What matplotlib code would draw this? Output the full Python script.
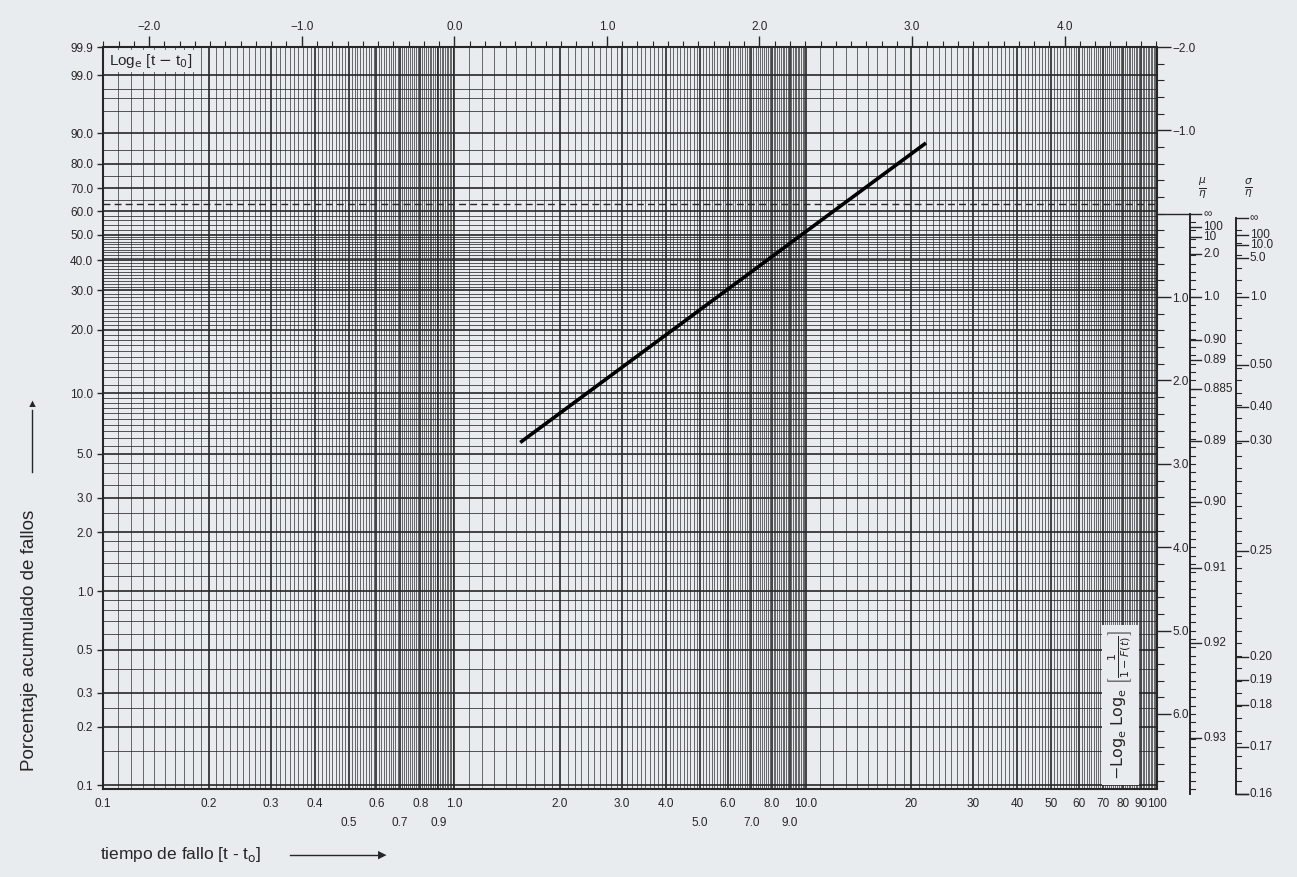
import numpy as np
import matplotlib
matplotlib.use("Agg")
import matplotlib.pyplot as plt
from matplotlib.transforms import blended_transform_factory
from matplotlib.ticker import NullLocator, FixedLocator

plt.rcParams['font.family'] = ['Liberation Sans', 'DejaVu Sans']

# ---------------- data ----------------
# left axis: cumulative failure percentage (labelled)
pct_values = [0.1, 0.2, 0.3, 0.5, 1.0, 2.0, 3.0, 5.0, 10.0, 20.0, 30.0, 40.0,
              50.0, 60.0, 70.0, 80.0, 90.0, 99.0, 99.9]
pct_labels = ["0.1", "0.2", "0.3", "0.5", "1.0", "2.0", "3.0", "5.0", "10.0",
              "20.0", "30.0", "40.0", "50.0", "60.0", "70.0", "80.0", "90.0",
              "99.0", "99.9"]
# unlabelled horizontal rulings (percent)
pct_minor = [0.15, 0.25, 0.4, 0.6, 0.7, 0.8, 0.9,
             1.2, 1.4, 1.6, 1.8, 2.5, 3.5, 4.0, 4.5, 5.5, 6.0, 6.5, 7.0, 7.5,
             8.0, 8.5, 9.0, 9.5,
             11, 12, 13, 14, 15, 16, 17, 18, 19,
             21, 22, 23, 24, 25, 26, 27, 28, 29,
             31, 32, 33, 34, 35, 36, 37, 38, 39,
             41, 42, 43, 44, 45, 46, 47, 48, 49,
             52, 54, 56, 58, 65, 75, 85, 95, 97, 98]
pct_dashed = 63.2

# bottom axis: time to failure, two rows of labels
t_row1 = [0.1, 0.2, 0.3, 0.4, 0.6, 0.8, 1.0, 2.0, 3.0, 4.0, 6.0, 8.0, 10.0,
          20, 30, 40, 50, 60, 70, 80, 90, 100]
t_row1_labels = ["0.1", "0.2", "0.3", "0.4", "0.6", "0.8", "1.0", "2.0", "3.0",
                 "4.0", "6.0", "8.0", "10.0", "20", "30", "40", "50", "60",
                 "70", "80", "90", "100"]
t_row2 = [0.5, 0.7, 0.9, 5.0, 7.0, 9.0]
t_row2_labels = ["0.5", "0.7", "0.9", "5.0", "7.0", "9.0"]

# top axis: Log_e(t - t0)
top_ticks = [-2.0, -1.0, 0.0, 1.0, 2.0, 3.0, 4.0]
top_labels = ["\u22122.0", "\u22121.0", "0.0", "1.0", "2.0", "3.0", "4.0"]

# right axis: -Log_e Log_e [1/(1-F(t))]
right_ticks = [-2.0, -1.0, 1.0, 2.0, 3.0, 4.0, 5.0, 6.0]
right_labels = ["\u22122.0", "\u22121.0", "1.0", "2.0", "3.0", "4.0", "5.0", "6.0"]

# mu/eta scale (positions on the right scale, labels)
mu_pos = [0.0, 0.16, 0.28, 0.48, 1.0, 1.52, 1.75, 2.10, 2.73, 3.46, 4.25, 5.15, 6.29]
mu_labels = ["\u221e", "100", "10", "2.0", "1.0", "0.90", "0.89", "0.885",
             "0.89", "0.90", "0.91", "0.92", "0.93"]
# sigma/eta scale
sg_pos = [0.05, 0.25, 0.37, 0.53, 1.0, 1.81, 2.32, 2.73, 4.04, 5.32, 5.59, 5.89, 6.40, 6.96]
sg_labels = ["\u221e", "100", "10.0", "5.0", "1.0", "0.50", "0.40", "0.30",
             "0.25", "0.20", "0.19", "0.18", "0.17", "0.16"]

# fitted straight line (time, percent)
fit_t = [1.54, 22.0]
fit_pct = [5.7, 87.2]


def yw(p):
    p = np.asarray(p, dtype=float) / 100.0
    return np.log(-np.log(1.0 - p))


# ---------------- figure ----------------
paper = "#e9ecee"
ink = "#262626"
W, H = 1297, 877
fig = plt.figure(figsize=(W / 100, H / 100), dpi=100, facecolor=paper)
L, R, T, B = 103, 1157, 47, 789
ax = fig.add_axes([L / W, 1 - B / H, (R - L) / W, (B - T) / H])
ax.set_facecolor(paper)
ax.set_xscale("log")
ax.set_xlim(0.1, 100)
y_bot, y_top = -6.95, 1.86
ax.set_ylim(y_bot, y_top)

# vertical rulings
xs_minor, xs_major = [], []
for dec in (0.01, 0.1, 1.0):
    for k in range(10, 100):
        v = k * dec
        (xs_major if k % 10 == 0 else xs_minor).append(v)
xs_major.append(100.0)
ax.vlines(xs_minor, y_bot, y_top, colors=ink, linewidth=0.55, alpha=0.85, zorder=1)
ax.vlines(xs_major, y_bot, y_top, colors=ink, linewidth=1.2, zorder=1)

# horizontal rulings
ax.hlines(yw(pct_minor), 0.1, 100, colors=ink, linewidth=0.6, alpha=0.9, zorder=1)
ax.hlines(yw(pct_values[:-1]), 0.1, 100, colors=ink, linewidth=1.2, zorder=1)
ax.hlines(yw([pct_dashed]), 0.1, 100, colors=ink, linewidth=1.0,
          linestyles=(0, (5, 3)), zorder=2)

# the straight line
ax.plot(fit_t, yw(fit_pct), color="black", linewidth=2.6, zorder=5,
        solid_capstyle="butt")

for s in ax.spines.values():
    s.set_linewidth(1.5)
    s.set_color(ink)

# left ticks
ypos = np.minimum(yw(pct_values), y_top)
ax.set_yticks(ypos)
ax.set_yticklabels(pct_labels)
ax.yaxis.set_minor_locator(NullLocator())
ax.tick_params(axis="y", which="major", direction="out", length=4, width=1,
               labelsize=8.5, colors=ink, pad=3)

# bottom labels (two rows, drawn manually)
ax.xaxis.set_major_locator(NullLocator())
ax.xaxis.set_minor_locator(NullLocator())
tb = blended_transform_factory(ax.transData, ax.transAxes)
for v, lab in zip(t_row1, t_row1_labels):
    ax.text(v, -0.012, lab, transform=tb, ha="center", va="top", fontsize=8.5, color=ink)
for v, lab in zip(t_row2, t_row2_labels):
    ax.text(v, -0.038, lab, transform=tb, ha="center", va="top", fontsize=8.5, color=ink)

# top axis (natural log of time) -- linear twin spanning ln(0.1)..ln(100)
ax3 = ax.twiny()
ax3.set_xlim(np.log(0.1), np.log(100.0))
ax3.set_xticks(top_ticks)
ax3.set_xticklabels(top_labels)
ax3.xaxis.set_minor_locator(FixedLocator(np.round(np.arange(-2.3, 4.61, 0.1), 2)))
ax3.tick_params(axis="x", which="major", direction="out", length=8, width=1,
                labelsize=8.5, colors=ink, pad=2)
ax3.tick_params(axis="x", which="minor", direction="out", length=4, width=0.8,
                colors=ink)
ax3.yaxis.set_visible(False)
for s in ax3.spines.values():
    s.set_visible(False)

# right axis
ax2 = ax.twinx()
ax2.set_ylim(6.9, -2.0)
ax2.set_yticks(right_ticks)
ax2.set_yticklabels(right_labels)
ax2.yaxis.set_minor_locator(FixedLocator(np.round(np.arange(-1.8, 6.9, 0.2), 2)))
ax2.tick_params(axis="y", which="major", direction="out", length=10, width=1,
                labelsize=8.5, colors=ink, pad=1)
ax2.tick_params(axis="y", which="minor", direction="out", length=5, width=0.8,
                colors=ink)
for s in ax2.spines.values():
    s.set_visible(False)

# mu/eta and sigma/eta scales
tr = blended_transform_factory(ax2.transAxes, ax2.transData)
mu_x, sg_x = 1.031, 1.075
tick_l, tick_s = 0.011, 0.005
ax2.plot([1.0, mu_x], [0, 0], transform=tr, color=ink, lw=1.0, clip_on=False)
ax2.plot([mu_x, mu_x], [0, 6.96], transform=tr, color=ink, lw=1.4, clip_on=False)
ax2.plot([sg_x, sg_x], [0.05, 6.96], transform=tr, color=ink, lw=1.4, clip_on=False)
ax2.plot([sg_x, sg_x + tick_l], [6.96, 6.96], transform=tr, color=ink, lw=1.0, clip_on=False)
for v in np.arange(0.1, 6.95, 0.1):
    ax2.plot([mu_x, mu_x + tick_s], [v, v], transform=tr, color=ink, lw=0.8, clip_on=False)
for v in np.arange(0.2, 6.9, 0.15):
    ax2.plot([sg_x, sg_x + tick_s], [v, v], transform=tr, color=ink, lw=0.8, clip_on=False)
for v, lab in zip(mu_pos, mu_labels):
    ax2.plot([mu_x, mu_x + tick_l], [v, v], transform=tr, color=ink, lw=1.0, clip_on=False)
    ax2.text(mu_x + tick_l + 0.002, v, lab, transform=tr, ha="left", va="center",
             fontsize=8.5, color=ink)
for v, lab in zip(sg_pos, sg_labels):
    ax2.plot([sg_x, sg_x + tick_l], [v, v], transform=tr, color=ink, lw=1.0, clip_on=False)
    ax2.text(sg_x + tick_l + 0.002, v, lab, transform=tr, ha="left", va="center",
             fontsize=8.5, color=ink)
ax2.text(mu_x + 0.008, -0.3, r"$\frac{\mu}{\eta}$", transform=tr, ha="left",
         va="center", fontsize=11, color=ink)
ax2.text(sg_x + 0.008, -0.3, r"$\frac{\sigma}{\eta}$", transform=tr, ha="left",
         va="center", fontsize=11, color=ink)

# in-chart captions
ax.text(0.006, 0.993, r"Log$_\mathrm{e}$ [t $-$ t$_0$]", transform=ax.transAxes,
        ha="left", va="top", fontsize=11, color=ink, zorder=6,
        bbox=dict(boxstyle="square,pad=0.15", facecolor=paper, edgecolor="none"))
ax.text(0.965, 0.012,
        r"$-\mathrm{Log_e}\ \mathrm{Log_e}\ \left[\frac{1}{1-F(t)}\right]$",
        transform=ax.transAxes, ha="center", va="bottom", rotation=90,
        fontsize=11.5, color=ink, zorder=6,
        bbox=dict(boxstyle="square,pad=0.3", facecolor=paper, edgecolor="none"))

# axis titles with arrows
fig.text(0.023, 1 - 640 / H, "Porcentaje acumulado de fallos", rotation=90,
         ha="center", va="center", fontsize=13.5, color=ink)
fig.add_artist(plt.Line2D([0.025, 0.025], [1 - 472 / H, 1 - 410 / H],
                          color=ink, lw=1.0))
fig.text(0.025, 1 - 404 / H, "\u25b2", ha="center", va="center", fontsize=8, color=ink)
fig.text(100 / W, 1 - 855 / H, r"tiempo de fallo [t - t$_\mathrm{o}$]",
         ha="left", va="center", fontsize=12.5, color=ink)
fig.add_artist(plt.Line2D([290 / W, 378 / W], [1 - 855 / H, 1 - 855 / H],
                          color=ink, lw=1.0))
fig.text(382 / W, 1 - 855 / H, "\u25b6", ha="center", va="center", fontsize=8, color=ink)

fig.savefig("out.png", dpi=100, facecolor=paper)
